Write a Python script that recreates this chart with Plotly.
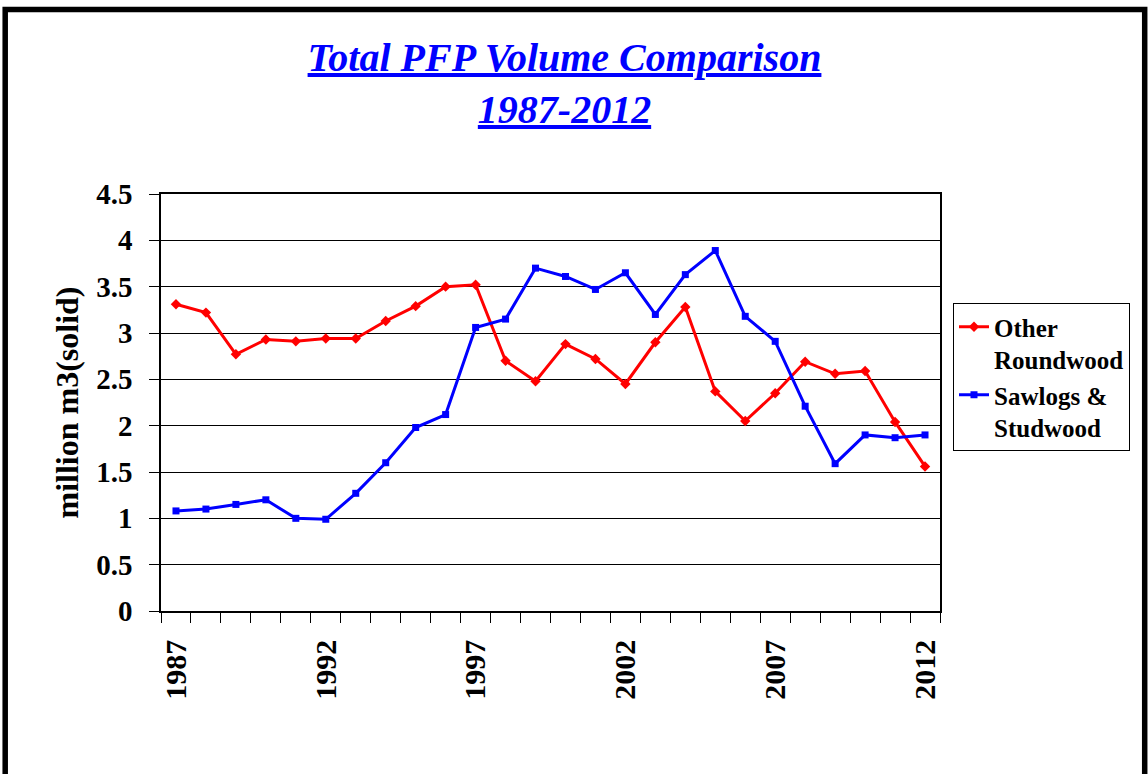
import plotly.graph_objects as go

years = list(range(1987, 2013))
other_roundwood = [3.31, 3.22, 2.77, 2.93, 2.91, 2.94, 2.94, 3.13, 3.29, 3.50, 3.52, 2.70, 2.48,
                   2.88, 2.72, 2.45, 2.90, 3.28, 2.37, 2.05, 2.35, 2.69, 2.56, 2.59, 2.04, 1.56]
sawlogs_studwood = [1.08, 1.10, 1.15, 1.20, 1.00, 0.99, 1.27, 1.60, 1.98, 2.12, 3.06, 3.15, 3.70,
                    3.61, 3.47, 3.65, 3.20, 3.63, 3.89, 3.18, 2.91, 2.21, 1.59, 1.90, 1.87, 1.90]
label_years = [1987, 1992, 1997, 2002, 2007, 2012]
y_ticks = [0, 0.5, 1, 1.5, 2, 2.5, 3, 3.5, 4, 4.5]
y_tick_text = ["0", "0.5", "1", "1.5", "2", "2.5", "3", "3.5", "4", "4.5"]

FONT = "Liberation Serif"
W, H = 1148, 774
L, R, T, B = 161, 208, 194, 163
pw, ph = W - L - R, H - T - B

def px_x(x):
    return (x - L) / pw

def px_y(y):
    return (H - B - y) / ph

fig = go.Figure()
fig.add_trace(go.Scatter(
    x=years, y=other_roundwood, mode="lines+markers",
    name="<b>Other<br>Roundwood</b>",
    line=dict(color="#FF0000", width=3),
    marker=dict(symbol="diamond", size=8, color="#FF0000"),
))
fig.add_trace(go.Scatter(
    x=years, y=sawlogs_studwood, mode="lines+markers",
    name="<b>Sawlogs &<br>Studwood</b>",
    line=dict(color="#0000FF", width=3),
    marker=dict(symbol="square", size=7, color="#0000FF"),
))

fig.update_layout(
    width=W, height=H,
    margin=dict(l=L, r=R, t=T, b=B, autoexpand=False),
    paper_bgcolor="white", plot_bgcolor="white",
    font=dict(family=FONT, color="black"),
    title=dict(
        text="<b><i><u>Total PFP Volume Comparison</u><br><u>1987-2012</u></i></b>",
        font=dict(family=FONT, size=40, color="#0000FF"),
        x=564.5 / W, xanchor="center", xref="container",
        y=1 - 71 / H, yanchor="top", yref="container",
    ),
    showlegend=True,
    legend=dict(
        x=px_x(953), y=px_y(303), xanchor="left", yanchor="top",
        bordercolor="black", borderwidth=1, bgcolor="white",
        font=dict(family=FONT, size=25, color="black"),
        valign="top", tracegroupgap=0, itemwidth=30,
    ),
)

fig.update_xaxes(
    range=[1986.5, 2012.5], tickmode="array",
    tickvals=label_years, ticktext=[f"<b>{y}</b>" for y in label_years],
    tickangle=-90, ticks="", ticklabelstandoff=15,
    tickfont=dict(family=FONT, size=30, color="black"),
    showgrid=False, zeroline=False,
    showline=True, linecolor="black", linewidth=1.5, mirror=True,
    minor=dict(tickmode="array", tickvals=[y + 0.5 for y in range(1986, 2013)],
               ticks="outside", ticklen=10, tickcolor="black", tickwidth=1, showgrid=False),
)
fig.update_yaxes(
    range=[0, 4.5], tickmode="array", tickvals=y_ticks,
    ticktext=[f"<b>{t}</b>" for t in y_tick_text],
    ticks="outside", ticklen=10, tickcolor="black", tickwidth=1,
    ticklabelstandoff=11,
    tickfont=dict(family=FONT, size=29, color="black"),
    showgrid=True, gridcolor="black", gridwidth=1, zeroline=False,
    showline=True, linecolor="black", linewidth=1.5, mirror=True,
    title=dict(text="<b>million m3(solid)</b>", font=dict(family=FONT, size=32, color="black"),
               standoff=8),
)

# outer frame of the picture
fig.add_shape(type="rect", xref="paper", yref="paper",
              x0=px_x(5.2), x1=px_x(1144.7), y0=px_y(800), y1=px_y(9.5),
              line=dict(color="black", width=5.5), fillcolor="rgba(0,0,0,0)", layer="above")

fig.write_html("out.html", config={"displayModeBar": False},
               post_script="document.body.style.margin='0';document.body.style.overflow='hidden';")
